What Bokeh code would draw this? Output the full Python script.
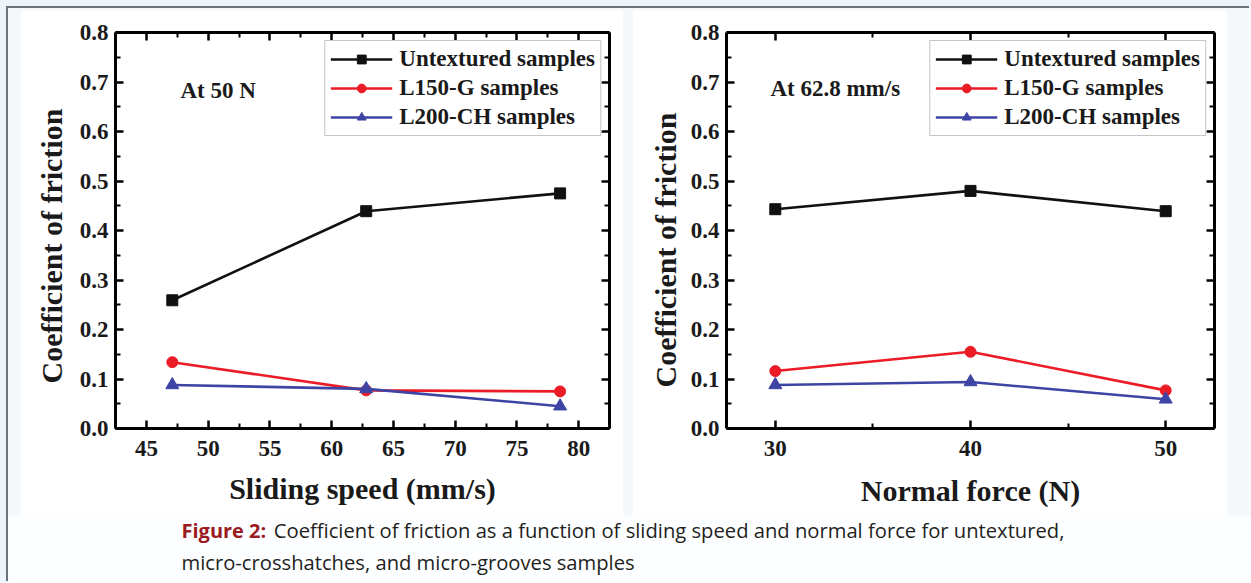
from bokeh.plotting import figure
from bokeh.models import (Range1d, LinearAxis, FixedTicker, PrintfTickFormatter,
                          Label, Legend, LegendItem, Spacer, Title, CustomLabelingPolicy)
from bokeh.layouts import column, row
from bokeh.core.properties import value
from bokeh.embed import file_html
from bokeh.resources import INLINE

# ---------------- data ----------------
series_names = ["Untextured samples", "L150-G samples", "L200-CH samples"]
series_colors = ["#111111", "#ec1c26", "#3d44a3"]
series_markers = ["square", "circle", "triangle"]

speed = [47.1, 62.8, 78.5]                 # mm/s  (at 50 N)
speed_untextured = [0.259, 0.439, 0.475]
speed_l150g = [0.134, 0.077, 0.075]
speed_l200ch = [0.088, 0.080, 0.045]

force = [30, 40, 50]                        # N  (at 62.8 mm/s)
force_untextured = [0.443, 0.480, 0.439]
force_l150g = [0.116, 0.155, 0.077]
force_l200ch = [0.088, 0.094, 0.059]

speed_ticks = [45, 50, 55, 60, 65, 70, 75, 80]
force_ticks = [30, 40, 50]
cof_ticks = [0.0, 0.1, 0.2, 0.3, 0.4, 0.5, 0.6, 0.7, 0.8]

y_title = "Coefficient of friction"
caption_head = "Figure 2:"
caption_line1 = "Coefficient of friction as a function of sliding speed and normal force for untextured,"
caption_line2 = "micro-crosshatches, and micro-grooves samples"

SERIF = "Liberation Serif"
INK = "#1a1a1a"


def minor_of(ticks):
    step = ticks[1] - ticks[0]
    return [ticks[0] - step / 2] + [t + step / 2 for t in ticks]


def no_labels():
    return CustomLabelingPolicy(code="""
        for (const i of Array.from(indices)) { indices.unset(i) }
        return indices
    """)


def make_panel(xs, ys_list, xr, xticks, xlabel, note, note_xy,
               width, height, borders, tick_off, title_off, ytitle_standoff, ytitle_offset):
    p = figure(width=width, height=height, x_range=Range1d(*xr),
               y_range=Range1d(0, 0.8), output_backend="svg",
               toolbar_location=None, background_fill_color="white",
               border_fill_color="white")
    p.min_border_left, p.min_border_right, p.min_border_top, p.min_border_bottom = borders
    p.grid.visible = False
    p.outline_line_color = None

    p.xaxis.ticker = FixedTicker(ticks=xticks, minor_ticks=minor_of(xticks))
    p.yaxis.ticker = FixedTicker(ticks=cof_ticks, minor_ticks=minor_of(cof_ticks))
    p.yaxis.formatter = PrintfTickFormatter(format="%.1f")

    top = LinearAxis(ticker=FixedTicker(ticks=xticks, minor_ticks=minor_of(xticks)))
    right = LinearAxis(ticker=FixedTicker(ticks=cof_ticks, minor_ticks=minor_of(cof_ticks)))
    p.add_layout(top, "above")
    p.add_layout(right, "right")
    for ax in (top, right):
        ax.major_label_policy = no_labels()
        ax.major_label_text_font_size = "1px"
        ax.major_label_standoff = 0

    for ax in p.xaxis + p.yaxis:
        ax.axis_line_width = 3
        ax.axis_line_color = "black"
        ax.major_tick_in = 8
        ax.major_tick_out = 0
        ax.minor_tick_in = 5
        ax.minor_tick_out = 0
        ax.major_tick_line_width = 2.5
        ax.minor_tick_line_width = 2
        ax.major_tick_line_color = "black"
        ax.minor_tick_line_color = "black"
        ax.major_label_text_font = SERIF
        ax.major_label_text_font_style = "bold"
        ax.major_label_text_color = INK

    bx = p.below[0]
    bx.major_label_text_font_size = "23px"
    bx.major_label_standoff = tick_off
    bx.axis_label = xlabel
    bx.axis_label_text_font = SERIF
    bx.axis_label_text_font_style = "bold"
    bx.axis_label_text_font_size = "30px"
    bx.axis_label_text_color = INK
    bx.axis_label_standoff = title_off

    ly = p.left[0]
    ly.major_label_text_font_size = "23px"
    ly.major_label_standoff = 7

    items = []
    for ys, name, col, mk in zip(ys_list, series_names, series_colors, series_markers):
        ln = p.line(xs, ys, line_color=col, line_width=2.6)
        sz = 13 if mk == "triangle" else 11
        sc = p.scatter(xs, ys, marker=mk, size=sz, fill_color=col, line_color=col)
        items.append(LegendItem(label=name, renderers=[ln, sc]))

    leg = Legend(items=items, location="top_right", margin=8, padding=5, spacing=3,
                 glyph_width=62, glyph_height=22, label_height=22, label_standoff=7,
                 label_text_font=SERIF, label_text_font_style="bold",
                 label_text_font_size="23px", label_text_color=INK,
                 border_line_color="#8c8c8c", border_line_width=1.2,
                 background_fill_color="white", background_fill_alpha=1)
    p.add_layout(leg)

    p.add_layout(Label(x=note_xy[0], y=note_xy[1], text=note, text_font=SERIF,
                       text_font_style="bold", text_font_size="23px",
                       text_color=INK, text_baseline="middle"))

    yt = Title(text=y_title, align="left", offset=ytitle_offset, standoff=ytitle_standoff,
               text_font=SERIF, text_font_style="bold", text_font_size="30px",
               text_color=INK)
    p.add_layout(yt, "left")
    return p


p1 = make_panel(speed, [speed_untextured, speed_l150g, speed_l200ch], (42.5, 82.5),
                speed_ticks, "Sliding speed (mm/s)", "At 50 N", (47.76, 0.682),
                603, 505, (95, 14, 19, 83), 12, 13, 17, 45)
p2 = make_panel(force, [force_untextured, force_l150g, force_l200ch], (27.5, 52.5),
                force_ticks, "Normal force (N)", "At 62.8 mm/s", (29.75, 0.687),
                595, 505, (94, 13, 22, 87), 12, 15, 11, 41)

cap = figure(width=1243, height=68, x_range=Range1d(0, 1243), y_range=Range1d(68, 0),
             output_backend="svg", toolbar_location=None,
             background_fill_color="#fdfeff", border_fill_color="#fdfeff")
cap.min_border = 0
cap.axis.visible = False
cap.grid.visible = False
cap.outline_line_color = None
cap.text(x=[173], y=[14.6], text=[caption_head], text_font=value("Open Sans"),
         text_font_style="bold", text_font_size="20px", text_color="#9b1b1f",
         text_baseline="middle")
cap.text(x=[265.3], y=[14.6], text=[caption_line1], text_font=value("Open Sans"),
         text_font_size="20.2px", text_color="#231f20", text_baseline="middle")
cap.text(x=[173], y=[46.8], text=[caption_line2], text_font=value("Open Sans"),
         text_font_size="20.2px", text_color="#231f20", text_baseline="middle")

inner = column(
    Spacer(height=2),
    row(Spacer(width=12), p1, Spacer(width=9), p2, Spacer(width=24)),
    cap,
    styles={"background-color": "#f4f8fb", "box-shadow": "-2px -2px 0 0 #6d7378"},
)
layout = column(
    Spacer(height=8),
    row(Spacer(width=8), inner),
    styles={"background-color": "#eef5fa"},
)

open("out.html", "w").write(file_html(layout, INLINE))
